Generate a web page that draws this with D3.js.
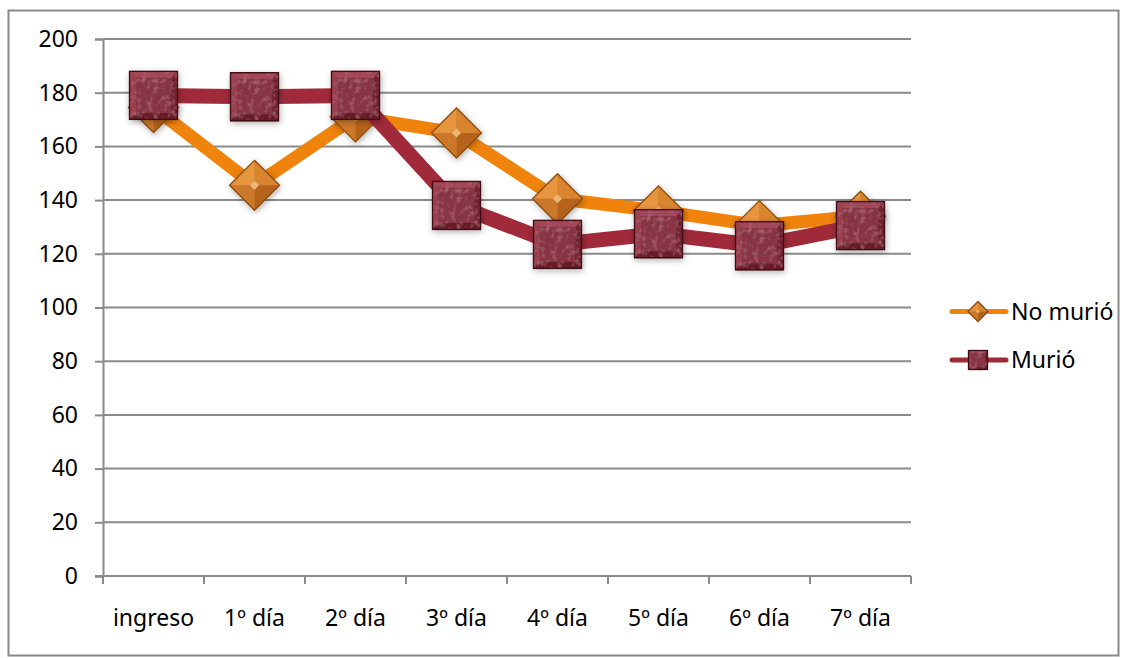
<!DOCTYPE html>
<html>
<head>
<meta charset="utf-8">
<script src="https://cdn.jsdelivr.net/npm/d3@7"></script>
<style>
  html, body { margin: 0; padding: 0; background: #fff; }
  svg { display: block; }
  text { font-family: "Noto Sans", "Open Sans", sans-serif; fill: #000; }
</style>
</head>
<body>
<svg id="chart" width="1125" height="658"></svg>
<script>
// Series data
const categories = ["ingreso", "1º día", "2º día", "3º día", "4º día", "5º día", "6º día", "7º día"];
const noMurio = [174.5, 145.5, 171, 165, 140.5, 136, 130.5, 134];
const murio   = [179, 178.5, 179, 138, 123.5, 127.5, 123, 130.5];
const yTicks  = [0, 20, 40, 60, 80, 100, 120, 140, 160, 180, 200];
const seriesNames = ["No murió", "Murió"];

const svg = d3.select("#chart");
const plot = { left: 103, right: 911, top: 39, bottom: 576 };
const FONT = 23;

const x = d3.scaleBand().domain(categories).range([plot.left, plot.right]).padding(0);
const cx = c => x(c) + x.bandwidth() / 2;
const y = d3.scaleLinear().domain([0, 200]).range([plot.bottom, plot.top]);

const defs = svg.append("defs");
const shadow = defs.append("filter").attr("id", "mshadow")
  .attr("x", "-40%").attr("y", "-40%").attr("width", "180%").attr("height", "180%");
shadow.append("feDropShadow").attr("dx", 1).attr("dy", 2).attr("stdDeviation", 3)
  .attr("flood-color", "#000").attr("flood-opacity", 0.3);

// mottled texture for the square markers
const tex = defs.append("filter").attr("id", "mottle").attr("x", "0").attr("y", "0").attr("width", "100%").attr("height", "100%");
tex.append("feTurbulence").attr("type", "fractalNoise").attr("baseFrequency", 0.18).attr("numOctaves", 2).attr("seed", 4).attr("result", "n");
tex.append("feColorMatrix").attr("in", "n").attr("type", "matrix")
  .attr("values", "0 0 0 0 0.55  0 0 0 0 0.22  0 0 0 0 0.27  0 0 0 1.4 -0.7").attr("result", "c");
tex.append("feComposite").attr("in", "c").attr("in2", "SourceGraphic").attr("operator", "in").attr("result", "t");
tex.append("feMerge").selectAll("feMergeNode").data(["SourceGraphic", "t"]).join("feMergeNode").attr("in", d => d);

// outer frame
svg.append("rect").attr("x", 8.5).attr("y", 10.5).attr("width", 1110).attr("height", 645)
  .attr("fill", "none").attr("stroke", "#8a8a8a").attr("stroke-width", 2);

// horizontal gridlines
svg.append("g").selectAll("line").data(yTicks.filter(t => t > 0)).join("line")
  .attr("x1", plot.left).attr("x2", plot.right)
  .attr("y1", d => y(d)).attr("y2", d => y(d))
  .attr("stroke", "#8a8a8a").attr("stroke-width", 2);

// y axis
const yAxis = svg.append("g").attr("transform", `translate(${plot.left},0)`)
  .call(d3.axisLeft(y).tickValues(yTicks).tickSize(8).tickPadding(17).tickFormat(d3.format("d")));
yAxis.select(".domain").attr("stroke", "#8a8a8a").attr("stroke-width", 2);
yAxis.selectAll(".tick line").attr("stroke", "#8a8a8a").attr("stroke-width", 2);
yAxis.selectAll(".tick text").attr("font-size", FONT).attr("font-family", "Noto Sans").attr("fill", "#000");

// x axis: tick marks at band edges, labels at band centres
const edges = categories.map(c => x(c)).concat([plot.right]);
const xAxisG = svg.append("g");
xAxisG.append("line").attr("x1", plot.left - 8).attr("x2", plot.right)
  .attr("y1", plot.bottom).attr("y2", plot.bottom)
  .attr("stroke", "#8a8a8a").attr("stroke-width", 2);
xAxisG.selectAll("line.tk").data(edges).join("line").attr("class", "tk")
  .attr("x1", d => d).attr("x2", d => d)
  .attr("y1", plot.bottom).attr("y2", plot.bottom + 8)
  .attr("stroke", "#8a8a8a").attr("stroke-width", 2);
xAxisG.selectAll("text").data(categories).join("text")
  .attr("x", d => cx(d)).attr("y", 626)
  .attr("text-anchor", "middle").attr("font-size", FONT).text(d => d);

// marker drawing helpers
function diamond(g, r) {
  const t = r * 0.18;
  const facets = [
    { pts: [[0, -r], [-r, 0], [-t, 0], [0, -t]], fill: "#e7963f" },
    { pts: [[0, -r], [r, 0], [t, 0], [0, -t]], fill: "#d9842f" },
    { pts: [[-r, 0], [0, r], [0, t], [-t, 0]], fill: "#cc782a" },
    { pts: [[r, 0], [0, r], [0, t], [t, 0]], fill: "#b5641c" }
  ];
  g.append("path").attr("d", `M0,${-r}L${r},0L0,${r}L${-r},0Z`).attr("fill", "#d07e30");
  g.selectAll("path.f").data(facets).join("path").attr("class", "f")
    .attr("d", d => "M" + d.pts.join("L") + "Z").attr("fill", d => d.fill);
  g.append("path").attr("d", `M0,${-t}L${t},0L0,${t}L${-t},0Z`).attr("fill", "#eab77a");
  g.append("path").attr("d", `M0,${-r}L${r},0L0,${r}L${-r},0Z`)
    .attr("fill", "none").attr("stroke", "#8e4c0c").attr("stroke-width", 1.3);
}

function square(g, s) {
  const h = s / 2, b = s * 0.14;
  const facets = [
    { pts: [[-h, -h], [h, -h], [h - b, -h + b], [-h + b, -h + b]], fill: "#a64a5a" },
    { pts: [[-h, -h], [-h, h], [-h + b, h - b], [-h + b, -h + b]], fill: "#9c4252" },
    { pts: [[h, -h], [h, h], [h - b, h - b], [h - b, -h + b]], fill: "#6e2030" },
    { pts: [[-h, h], [h, h], [h - b, h - b], [-h + b, h - b]], fill: "#621a27" }
  ];
  const inner = g.append("g").attr("filter", "url(#mottle)");
  inner.append("rect").attr("x", -h).attr("y", -h).attr("width", s).attr("height", s).attr("fill", "#873645");
  inner.selectAll("path.f").data(facets).join("path").attr("class", "f")
    .attr("d", d => "M" + d.pts.join("L") + "Z").attr("fill", d => d.fill).attr("opacity", 0.85);
  g.append("rect").attr("x", -h + 0.5).attr("y", -h + 0.5).attr("width", s - 1).attr("height", s - 1)
    .attr("fill", "none").attr("stroke", "#3c0a13").attr("stroke-width", 1.3);
}

const series = [
  { name: seriesNames[0], values: noMurio, color: "#f0830c", width: 13, marker: g => diamond(g, 25), legMarker: g => diamond(g, 10) },
  { name: seriesNames[1], values: murio, color: "#a02a3a", width: 15, marker: g => square(g, 49), legMarker: g => square(g, 20) }
];

const line = d3.line().x((d, i) => cx(categories[i])).y(d => y(d));

series.forEach(s => {
  const g = svg.append("g");
  g.append("path").datum(s.values).attr("d", line)
    .attr("fill", "none").attr("stroke", s.color).attr("stroke-width", s.width)
    .attr("stroke-linejoin", "round");
  g.selectAll("g.m").data(s.values).join("g").attr("class", "m")
    .attr("transform", (d, i) => `translate(${cx(categories[i])},${y(d)})`)
    .attr("filter", "url(#mshadow)")
    .each(function () { s.marker(d3.select(this)); });
});

// legend
const legend = svg.append("g");
const legY = [311.5, 360];
series.forEach((s, i) => {
  const g = legend.append("g").attr("transform", `translate(0,${legY[i]})`);
  g.append("line").attr("x1", 952).attr("x2", 1006).attr("y1", 0).attr("y2", 0)
    .attr("stroke", s.color).attr("stroke-width", 5).attr("stroke-linecap", "round");
  const m = g.append("g").attr("transform", "translate(978,0)");
  s.legMarker(m);
  g.append("text").attr("x", 1011).attr("y", 0).attr("dy", "0.35em")
    .attr("font-size", FONT).text(s.name);
});
</script>
</body>
</html>
